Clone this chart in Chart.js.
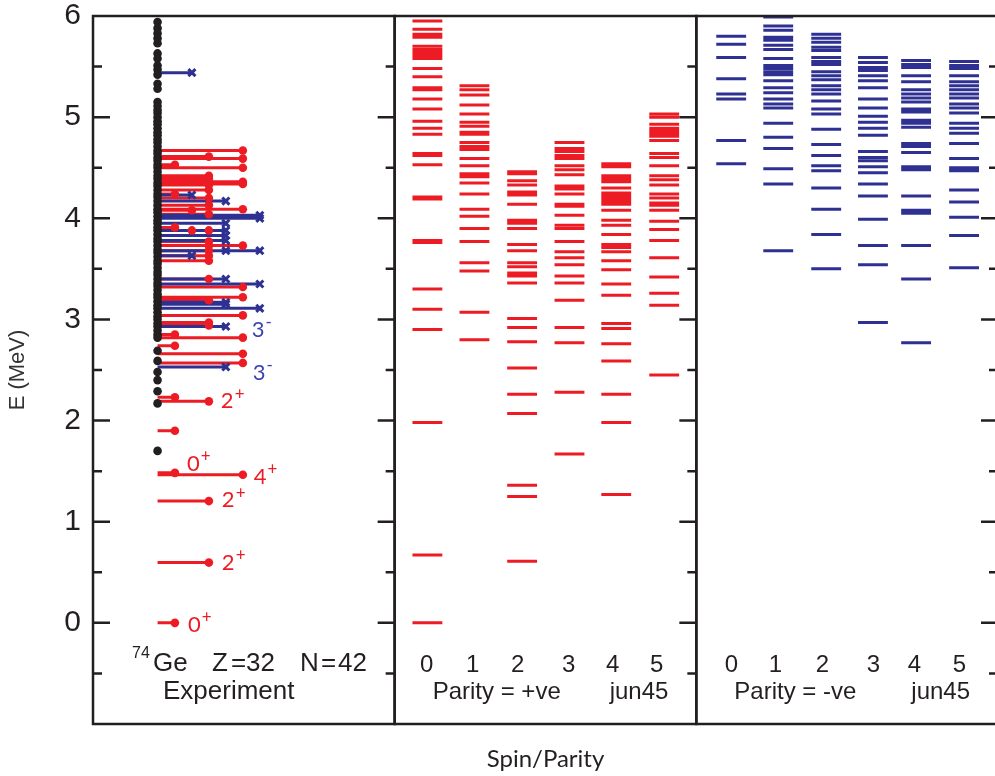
<!DOCTYPE html>
<html>
<head>
<meta charset="utf-8">
<title>74Ge levels</title>
<script src="https://cdn.jsdelivr.net/npm/chart.js@4.4.1/dist/chart.umd.min.js"></script>
<style>
  body { margin: 0; overflow: hidden; background: #fff; }
</style>
</head>
<body>
<canvas id="levels" width="1006" height="776"></canvas>
<script>
// 74Ge experiment: every known level (black dots)
var expAllE = [5.94, 5.88, 5.83, 5.78, 5.73, 5.63, 5.58, 5.51, 5.47, 5.42, 5.33, 5.28,
    5.15, 5.11, 5.07, 5.04, 5.00, 4.96, 4.93, 4.89, 4.85, 4.82, 4.78, 4.75, 4.71, 4.67,
    4.64, 4.60, 4.57, 4.53, 4.50, 4.46, 4.42, 4.39, 4.35, 4.32, 4.28, 4.24, 4.21, 4.17,
    4.13, 4.09, 4.06, 4.02, 3.98, 3.95, 3.91, 3.88, 3.84, 3.80, 3.77, 3.73, 3.69, 3.66,
    3.62, 3.58, 3.55, 3.51, 3.47, 3.44, 3.40, 3.36, 3.33, 3.29, 3.25, 3.22, 3.18, 3.14,
    3.11, 3.07, 3.03, 3.00, 2.96, 2.93, 2.89, 2.85, 2.82,
    2.69, 2.59, 2.48, 2.40, 2.29, 2.17, 1.70];

// levels with spin assigned, positive parity (red) and negative parity (blue)
var expPlusE = [0.00, 0.596, 1.204, 1.464, 1.483, 1.90, 2.19, 2.23, 2.57, 2.66, 2.74, 2.82,
    2.85, 2.94, 2.97, 3.04, 3.19, 3.22, 3.32, 3.40, 3.58, 3.63, 3.68, 3.73, 3.73, 3.77,
    3.88, 3.88, 3.91, 4.04, 4.08, 4.09, 4.13, 4.20, 4.24, 4.28, 4.33, 4.34, 4.35, 4.36,
    4.39, 4.42, 4.50, 4.53, 4.59, 4.61, 4.67];
var expPlusJ = [0, 2, 2, 4, 0, 0, 2, 0, 4, 4, 0, 4,
    0, 2, 2, 4, 2, 4, 4, 2, 2, 2, 2, 4, 2, 2,
    1, 2, 0, 2, 1, 4, 2, 2, 0, 2, 2, 4, 2, 4,
    2, 2, 4, 0, 4, 2, 4];
var expMinusE = [2.53, 2.93, 3.11, 3.15, 3.17, 3.35, 3.40, 3.63, 3.68, 3.68, 3.78, 3.83,
    3.88, 3.95, 4.00, 4.03, 4.17, 4.23, 5.44];
var expMinusJ = [3, 3, 5, 3, 3, 5, 3, 1, 3, 5, 3, 3,
    3, 3, 5, 5, 3, 1, 1];

// labelled experimental levels
var labelE = [0.00, 0.596, 1.204, 1.464, 1.483, 2.19, 2.53, 2.93];
var labelJ = [0, 2, 2, 4, 0, 2, 3, 3];
var labelSign = ['+', '+', '+', '+', '+', '+', '-', '-'];

// jun45 shell model, parity +
var posJ0 = [0.00, 0.67, 1.98, 2.90, 3.10, 3.30, 3.76, 3.78, 4.19, 4.21, 4.53, 4.62, 4.64, 4.83, 4.89,
    4.96, 5.08, 5.18, 5.27, 5.29, 5.40, 5.48, 5.58, 5.61, 5.64, 5.67, 5.70, 5.79, 5.82, 5.87, 5.95];
var posJ1 = [2.80, 3.07, 3.48, 3.56, 3.77, 3.90, 4.02, 4.09, 4.24, 4.35, 4.41, 4.44, 4.52, 4.59,
    4.68, 4.71, 4.75, 4.83, 4.85, 4.91, 4.95, 5.03, 5.12, 5.22, 5.27, 5.31];
var posJ2 = [0.61, 1.25, 1.36, 2.07, 2.26, 2.52, 2.78, 2.92, 3.01, 3.36, 3.43, 3.46, 3.52, 3.56,
    3.68, 3.74, 3.90, 3.95, 3.98, 4.14, 4.23, 4.26, 4.33, 4.37, 4.44, 4.46];
var posJ3 = [1.67, 2.28, 2.77, 2.92, 3.19, 3.36, 3.43, 3.54, 3.61, 3.67, 3.77, 3.90, 3.93, 4.03,
    4.12, 4.14, 4.24, 4.29, 4.32, 4.43, 4.48, 4.52, 4.59, 4.62, 4.66, 4.69, 4.75];
var posJ4 = [1.27, 1.98, 2.26, 2.59, 2.76, 2.91, 2.96, 3.24, 3.35, 3.49, 3.58, 3.67, 3.71, 3.74,
    3.84, 3.93, 3.98, 4.08, 4.14, 4.16, 4.19, 4.22, 4.25, 4.30, 4.36, 4.39, 4.42, 4.51, 4.54];
var posJ5 = [2.45, 3.14, 3.26, 3.42, 3.61, 3.78, 3.89, 3.97, 4.08, 4.13, 4.15, 4.20, 4.24, 4.33,
    4.38, 4.42, 4.52, 4.60, 4.64, 4.77, 4.81, 4.83, 4.86, 4.89, 4.93, 5.00, 5.03];

// jun45 shell model, parity -
var negJ0 = [4.54, 4.77, 5.18, 5.23, 5.38, 5.59, 5.72, 5.80];
var negJ1 = [3.68, 4.34, 4.49, 4.69, 4.80, 4.94, 5.09, 5.13, 5.18, 5.24, 5.29, 5.36, 5.42, 5.45,
    5.48, 5.51, 5.58, 5.67, 5.71, 5.76, 5.79, 5.86, 5.90, 5.99];
var negJ2 = [3.50, 3.84, 4.09, 4.30, 4.47, 4.52, 4.62, 4.73, 4.88, 5.03, 5.08, 5.16, 5.23, 5.27,
    5.31, 5.37, 5.41, 5.45, 5.52, 5.55, 5.59, 5.66, 5.69, 5.74, 5.78, 5.82];
var negJ3 = [2.97, 3.54, 3.73, 3.99, 4.22, 4.34, 4.45, 4.51, 4.57, 4.60, 4.66, 4.82, 4.89, 4.95,
    5.01, 5.09, 5.18, 5.29, 5.36, 5.41, 5.46, 5.49, 5.54, 5.59];
var negJ4 = [2.77, 3.40, 3.73, 4.05, 4.08, 4.22, 4.48, 4.51, 4.65, 4.71, 4.74, 4.90, 4.94, 4.97,
    5.05, 5.08, 5.15, 5.19, 5.23, 5.27, 5.35, 5.41, 5.49, 5.52, 5.56];
var negJ5 = [3.51, 3.83, 4.01, 4.16, 4.28, 4.47, 4.50, 4.59, 4.74, 4.84, 4.89, 4.94, 5.04, 5.09,
    5.13, 5.19, 5.23, 5.27, 5.31, 5.35, 5.41, 5.48, 5.51, 5.55];

var spinLabels = ['0', '1', '2', '3', '4', '5'];

var RED = '#ed1c24';
var BLUE = '#2e3192';
var INK = '#231f20';

// x axis runs 0..3, one unit per panel
var posLeft = [0.059, 0.215, 0.373, 0.530, 0.685, 0.844];
var negLeft = [0.066, 0.222, 0.381, 0.536, 0.679, 0.838];
var COL_W = 0.099;
var EXP_X0 = 0.214;
function expEnd(j) { return 0.2715 + 0.0563 * j; }

function theoryLines(cols, panel, lefts) {
    var pts = [];
    cols.forEach(function (list, j) {
        var x0 = panel + lefts[j], x1 = x0 + COL_W;
        list.forEach(function (e) {
            pts.push({x: x0, y: e}, {x: x1, y: e}, {x: x1, y: null});
        });
    });
    return pts;
}
function expLines(es, js) {
    var pts = [];
    es.forEach(function (e, i) {
        pts.push({x: EXP_X0, y: e}, {x: expEnd(js[i]), y: e}, {x: expEnd(js[i]), y: null});
    });
    return pts;
}
function expEnds(es, js) {
    return es.map(function (e, i) { return {x: expEnd(js[i]), y: e}; });
}

var framePlugin = {
    id: 'frame',
    afterDatasetsDraw: function (chart) {
        var ctx = chart.ctx, a = chart.chartArea, x = chart.scales.x, y = chart.scales.y;
        ctx.save();
        ctx.strokeStyle = INK;
        ctx.lineWidth = 2.5;
        var lefts = [];
        for (var p = 0; p < 3; p++) {
            var l = x.getPixelForValue(p), r = x.getPixelForValue(p + 1);
            lefts.push(l);
            ctx.strokeRect(l, a.top, r - l, a.bottom - a.top);
            ctx.beginPath();
            for (var v = -0.5; v < 6; v += 0.5) {
                var py = y.getPixelForValue(v);
                var len = (v % 1 === 0) ? 17 : 9;
                ctx.moveTo(r, py); ctx.lineTo(r - len, py);
                if (p === 0) { ctx.moveTo(l, py); ctx.lineTo(l + len, py); }
            }
            ctx.stroke();
        }

        // panel captions
        ctx.fillStyle = INK;
        ctx.textBaseline = 'alphabetic';
        ctx.textAlign = 'left';
        var l0 = lefts[0];
        ctx.font = '16px "Liberation Sans"';
        ctx.fillText('74', l0 + 39, 658);
        ctx.font = '26px "Liberation Sans"';
        ctx.fillText('Ge', l0 + 60, 671);
        ctx.fillText('Z', l0 + 119, 671);
        ctx.fillText('=', l0 + 138, 671);
        ctx.fillText('32', l0 + 153, 671);
        ctx.fillText('N', l0 + 207, 671);
        ctx.fillText('=', l0 + 228, 671);
        ctx.fillText('42', l0 + 245, 671);
        ctx.fillText('Experiment', l0 + 70, 699);

        ctx.font = '24px "Liberation Sans"';
        var digitsPos = [32, 78, 123, 174, 218, 262];
        var digitsNeg = [35, 79, 126, 177, 218, 263];
        ctx.textAlign = 'center';
        spinLabels.forEach(function (s, j) {
            ctx.fillText(s, lefts[1] + digitsPos[j], 672);
            ctx.fillText(s, lefts[2] + digitsNeg[j], 672);
        });
        ctx.textAlign = 'left';
        ctx.fillText('Parity = +ve', lefts[1] + 38, 699);
        ctx.fillText('jun45', lefts[1] + 215, 699);
        ctx.fillText('Parity = -ve', lefts[2] + 38, 699);
        ctx.fillText('jun45', lefts[2] + 215, 699);

        // spin-parity labels on the experimental levels
        var nudgeX = [13, 13, 13, 11, 12, 12, 27, 26];
        var nudgeY = [1, -1, -2, 1, -10, -1, 5, 2];
        ctx.textBaseline = 'middle';
        labelE.forEach(function (e, i) {
            var px = x.getPixelForValue(expEnd(labelJ[i])) + nudgeX[i];
            var py = y.getPixelForValue(e) + nudgeY[i];
            ctx.fillStyle = labelSign[i] === '+' ? RED : '#3b44b0';
            ctx.font = '22px Lato';
            ctx.fillText(String(labelJ[i]), px, py + 1);
            var w = ctx.measureText(String(labelJ[i])).width;
            ctx.font = '17px Lato';
            ctx.fillText(labelSign[i], px + w + 1, py - 6);
        });
        ctx.restore();
    }
};

new Chart(document.getElementById('levels'), {
    type: 'scatter',
    data: {
        datasets: [
            {data: expAllE.map(function (e) { return {x: EXP_X0, y: e}; }),
             pointRadius: 4.3, pointBackgroundColor: INK, pointBorderWidth: 0, showLine: false},
            {data: expEnds(expMinusE, expMinusJ), pointStyle: 'crossRot', pointRadius: 5,
             pointBorderColor: BLUE, pointBorderWidth: 3, showLine: false},
            {data: expEnds(expPlusE, expPlusJ), pointRadius: 4.3, pointBackgroundColor: RED,
             pointBorderWidth: 0, showLine: false},
            {data: expLines(expMinusE, expMinusJ), showLine: true, spanGaps: false,
             borderColor: BLUE, borderWidth: 3, pointRadius: 0},
            {data: expLines(expPlusE, expPlusJ), showLine: true, spanGaps: false,
             borderColor: RED, borderWidth: 3, pointRadius: 0},
            {data: theoryLines([posJ0, posJ1, posJ2, posJ3, posJ4, posJ5], 1, posLeft),
             showLine: true, spanGaps: false, borderColor: RED, borderWidth: 3, pointRadius: 0},
            {data: theoryLines([negJ0, negJ1, negJ2, negJ3, negJ4, negJ5], 2, negLeft),
             showLine: true, spanGaps: false, borderColor: BLUE, borderWidth: 3, pointRadius: 0}
        ]
    },
    options: {
        responsive: false,
        animation: false,
        layout: {padding: {top: 16, right: 2, left: 0, bottom: 0}},
        plugins: {legend: {display: false}, tooltip: {enabled: false}},
        scales: {
            x: {
                type: 'linear', min: 0, max: 3,
                grid: {display: false, drawTicks: false},
                border: {display: false},
                ticks: {display: false},
                title: {display: true, text: 'Spin/Parity', color: INK,
                        font: {family: 'Lato', size: 24}, padding: {top: 0, bottom: 2}},
                afterFit: function (s) { s.height = 52; s.paddingLeft = 0; s.paddingRight = 0; }
            },
            y: {
                min: -1, max: 6,
                grid: {display: false, drawTicks: false},
                border: {display: false},
                ticks: {
                    stepSize: 1, color: INK, padding: 12,
                    font: {family: 'Liberation Sans', size: 30},
                    callback: function (v) { return v >= 0 ? v : ''; }
                },
                title: {display: true, text: 'E (MeV)', color: '#333',
                        font: {family: 'Liberation Sans', size: 22}, padding: {top: 5, bottom: 0}},
                afterFit: function (s) { s.width = 93; s.paddingTop = 0; s.paddingBottom = 0; }
            }
        }
    },
    plugins: [framePlugin]
});
</script>
</body>
</html>
